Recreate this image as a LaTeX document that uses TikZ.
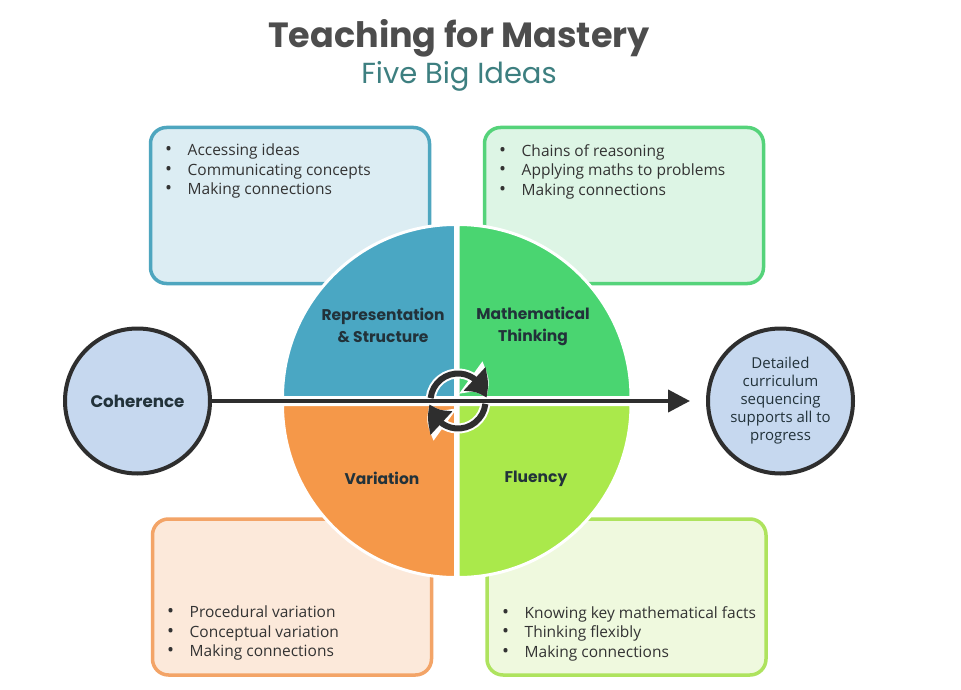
\documentclass[tikz,border=0pt]{standalone}
\usepackage{fontspec}
\setmainfont{Open Sans}
\newfontfamily\pop{Poppins}
\usetikzlibrary{arrows.meta,bending}
\definecolor{titlegrey}{HTML}{4D4D4D}
\definecolor{subteal}{HTML}{3D7F80}
\definecolor{tlborder}{HTML}{4EA6BF}
\definecolor{tlfill}{HTML}{DCEDF3}
\definecolor{trborder}{HTML}{55D37A}
\definecolor{trfill}{HTML}{DDF5E5}
\definecolor{blborder}{HTML}{F3A467}
\definecolor{blfill}{HTML}{FCE9DA}
\definecolor{brborder}{HTML}{AEE35E}
\definecolor{brfill}{HTML}{EFF9DE}
\definecolor{tlq}{HTML}{4AA7C3}
\definecolor{trq}{HTML}{4AD571}
\definecolor{blq}{HTML}{F59849}
\definecolor{brq}{HTML}{AAE94B}
\definecolor{circfill}{HTML}{C6D8EF}
\definecolor{darkline}{HTML}{2E2E2E}
\definecolor{bodytext}{HTML}{333333}
\definecolor{labeltext}{HTML}{22323A}
\tikzset{
  infobox/.style={rounded corners=16pt, line width=3.5pt, minimum width=279pt, minimum height=156pt, inner sep=0pt},
  listtext/.style={anchor=north west, inner sep=0pt, align=left, text=bodytext, font=\fontsize{15.5}{19.5}\selectfont},
  quadlabel/.style={align=center, text=labeltext, font=\pop\bfseries\fontsize{15.5}{22}\selectfont},
  bigcircle/.style={circle, draw=darkline, line width=4pt, fill=circfill, inner sep=0pt, minimum size=145pt},
  quad/.style={draw=white, line width=3pt},
  cycwhite/.style={white, line width=10pt, -{Triangle[bend, length=27pt, width=37pt]}},
  cycdark/.style={darkline, line width=6pt, -{Triangle[bend, length=23pt, width=30pt]}},
}
\newcommand{\bul}{\makebox[22.5pt][l]{\scalebox{1.2}{\textbullet}}}
\begin{document}
\begin{tikzpicture}[x=1pt,y=-1pt]
\useasboundingbox[fill=white] (0,0) rectangle (961,690);
% title
\node[font=\pop\bfseries\fontsize{35}{40}\selectfont, text=titlegrey] (title) at (459,38) {Teaching for Mastery};
\node[font=\pop\fontsize{29}{34}\selectfont, text=subteal] (subtitle) at (459,76) {Five Big Ideas};
% boxes
\node[infobox, draw=tlborder, fill=tlfill] (tlbox) at (290,205.5) {};
\node[infobox, draw=trborder, fill=trfill] (trbox) at (624,205.5) {};
\node[infobox, draw=blborder, fill=blfill] (blbox) at (292,597) {};
\node[infobox, draw=brborder, fill=brfill] (brbox) at (626.5,597) {};
% quadrants
\fill[tlq, quad] (455.5,397.5) -- ++(180:173) arc[start angle=180, end angle=270, radius=173] -- cycle;
\fill[trq, quad] (458,397.5) -- ++(270:173) arc[start angle=270, end angle=360, radius=173] -- cycle;
\fill[brq, quad] (458,404.5) -- ++(0:173) arc[start angle=0, end angle=90, radius=173] -- cycle;
\fill[blq, quad] (455.5,404.5) -- ++(90:173) arc[start angle=90, end angle=180, radius=173] -- cycle;
% circles
\node[bigcircle, font=\pop\bfseries\fontsize{16.7}{20}\selectfont, text=labeltext] (coherence) at (137.5,401) {Coherence};
\node[bigcircle, align=center, text=labeltext, font=\fontsize{15}{18}\selectfont] (outcome) at (780.5,401) {Detailed\\curriculum\\sequencing\\supports all to\\progress};
% cycle icon
\coordinate (cyc) at (458,401);
\draw[cycwhite] (cyc) ++(186:27.5) arc[start angle=186, end angle=354, radius=27.5];
\draw[cycwhite] (cyc) ++(6:27.5) arc[start angle=6, end angle=174, radius=27.5];
\draw[cycdark] (cyc) ++(186:27.5) arc[start angle=186, end angle=354, radius=27.5];
\draw[cycdark] (cyc) ++(6:27.5) arc[start angle=6, end angle=174, radius=27.5];
% main arrow
\coordinate (arrowend) at (690,401);
\draw[darkline, line width=4pt, -{Triangle[length=22pt,width=22pt]}] (coherence.east) -- (arrowend);
% quadrant labels
\node[quadlabel] (rep) at (383,325) {Representation\\\& Structure};
\node[quadlabel] (math) at (533,326) {Mathematical\\Thinking};
\node[quadlabel] (var) at (382,478) {Variation};
\node[quadlabel] (flu) at (536,479) {Fluency};
% lists
\node[listtext] (tllist) at (165,144) {\bul Accessing ideas\\\bul Communicating concepts\\\bul Making connections};
\node[listtext] (trlist) at (499,144) {\bul Chains of reasoning\\\bul Applying maths to problems\\\bul Making connections};
\node[listtext] (bllist) at (167,606) {\bul Procedural variation\\\bul Conceptual variation\\\bul Making connections};
\node[listtext] (brlist) at (502,606) {\bul Knowing key mathematical facts\\\bul Thinking flexibly\\\bul Making connections};
\end{tikzpicture}
\end{document}
